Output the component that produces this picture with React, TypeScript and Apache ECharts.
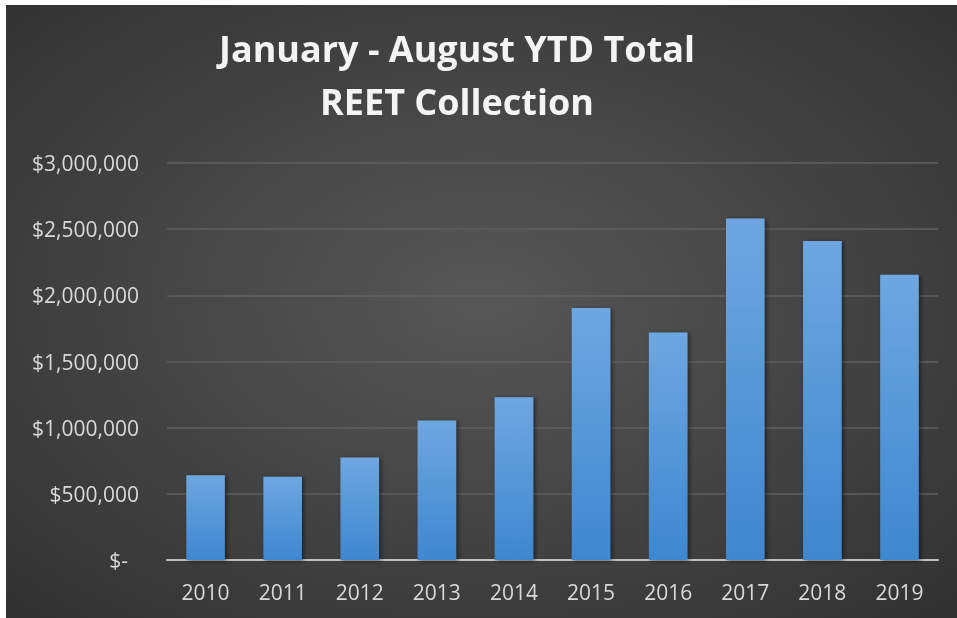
import React, { useEffect, useRef } from "react";
import * as echarts from "echarts";

const years = ["2010", "2011", "2012", "2013", "2014", "2015", "2016", "2017", "2018", "2019"];
const reetTotals = [640000, 630000, 775000, 1055000, 1230000, 1905000, 1720000, 2580000, 2410000, 2155000];
const titleLines = ["January - August YTD Total", "REET Collection"];
const yMax = 3000000;
const yStep = 500000;

export default function App() {
  const ref = useRef<HTMLDivElement>(null);
  useEffect(() => {
    document.body.style.margin = "0";
    document.body.style.background = "#ffffff";
    const chart = echarts.init(ref.current!, undefined, { renderer: "svg" });
    const font = "Open Sans, Lato, sans-serif";
    chart.setOption({
      animation: false,
      backgroundColor: {
        type: "radial",
        x: 0.5,
        y: 0.48,
        r: 0.95,
        colorStops: [
          { offset: 0, color: "#575757" },
          { offset: 1, color: "#252525" },
        ],
      },
      graphic: titleLines.map((t, i) => ({
        type: "text",
        x: 451,
        y: 61 + i * 53,
        style: {
          text: t,
          fill: "#f4f4f4",
          font: `bold 36px ${font}`,
          textAlign: "center",
          textVerticalAlign: "bottom",
          shadowBlur: 4,
          shadowColor: "rgba(0,0,0,0.7)",
          shadowOffsetX: 1,
          shadowOffsetY: 2,
        },
      })),
      grid: { left: 161, right: 19, top: 158, bottom: 58 },
      xAxis: {
        type: "category",
        data: years,
        axisLine: { lineStyle: { color: "#bfbfbf", width: 2 } },
        axisTick: { show: false },
        axisLabel: { color: "#d9d9d9", fontSize: 21, fontFamily: font, margin: 21 },
      },
      yAxis: {
        type: "value",
        min: 0,
        max: yMax,
        interval: yStep,
        axisLine: { show: false },
        axisTick: { show: false },
        splitLine: { lineStyle: { color: "#606060", width: 1.5 } },
        axisLabel: {
          color: "#d9d9d9",
          fontSize: 21,
          fontFamily: font,
          margin: 28,
          formatter: (v: number) =>
            v === 0 ? "{z|$-}" : "$" + v.toLocaleString("en-US"),
          rich: {
            z: { color: "#d9d9d9", fontSize: 21, fontFamily: font, padding: [0, 11, 0, 0] },
          },
        },
      },
      series: [
        {
          type: "bar",
          data: reetTotals,
          barWidth: "50%",
          itemStyle: {
            color: new echarts.graphic.LinearGradient(0, 0, 0, 1, [
              { offset: 0, color: "#6ea7e0" },
              { offset: 1, color: "#3e87cf" },
            ]),
            shadowBlur: 4,
            shadowColor: "rgba(0,0,0,0.5)",
            shadowOffsetX: 2,
            shadowOffsetY: 1,
          },
        },
      ],
    });
    return () => chart.dispose();
  }, []);
  return (
    <div
      ref={ref}
      style={{ position: "fixed", left: 6, top: 5, right: 0, bottom: 0 }}
    />
  );
}
